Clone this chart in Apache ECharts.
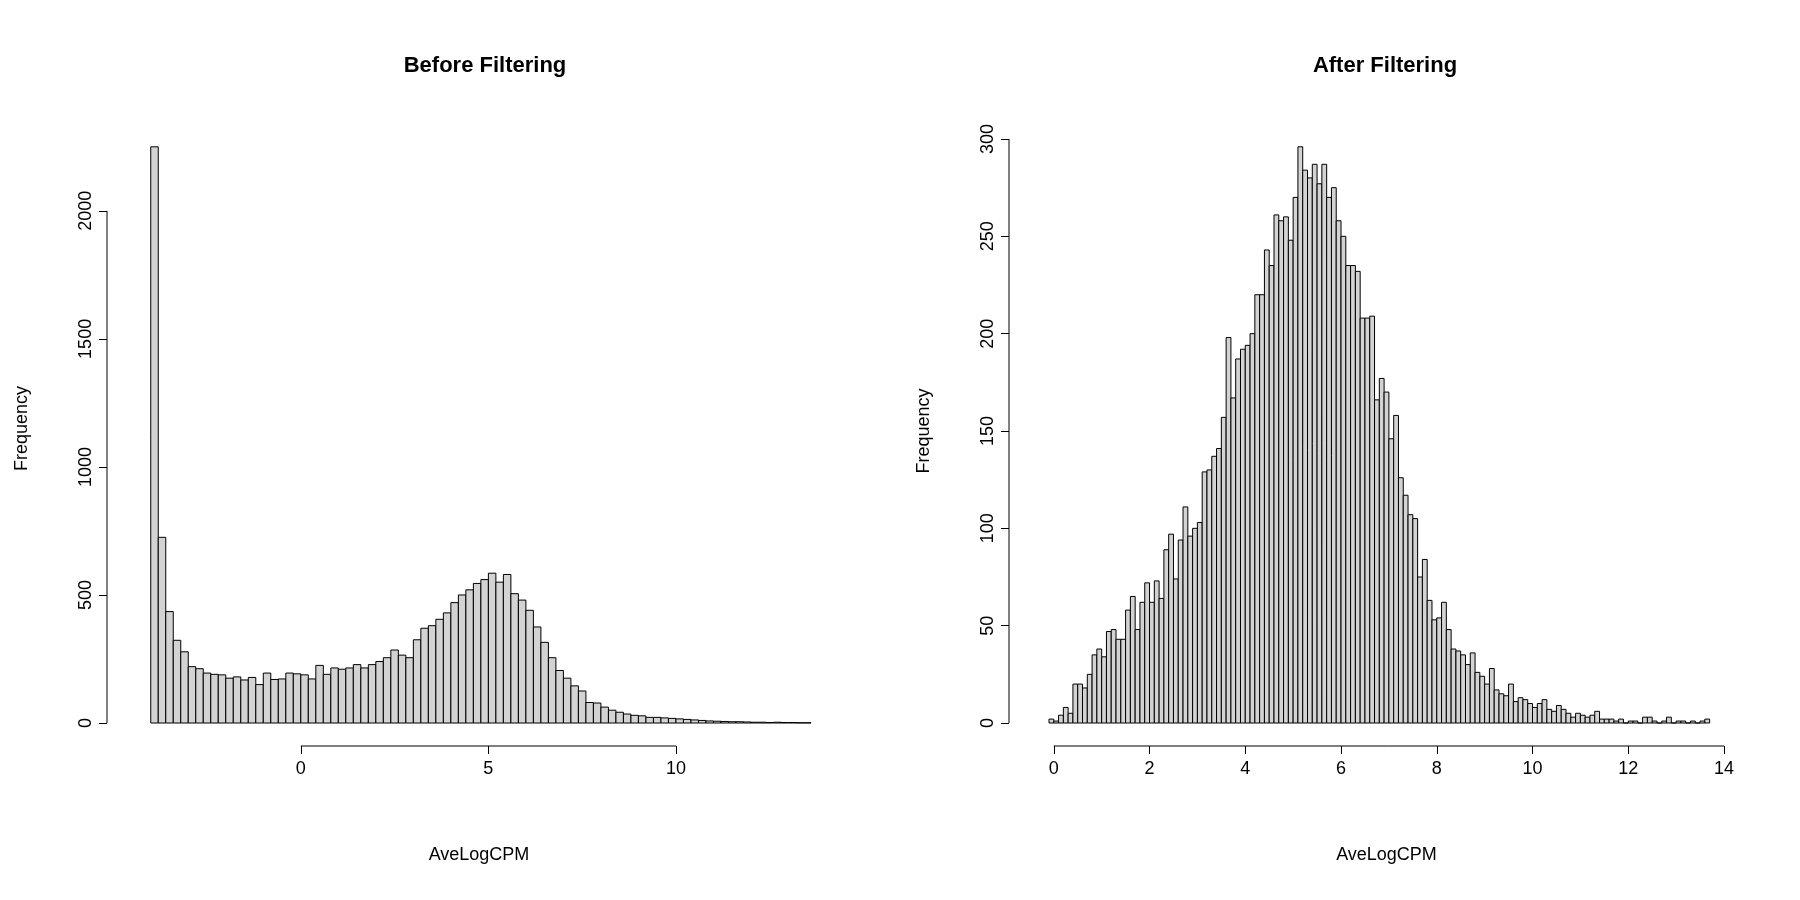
<!DOCTYPE html>
<html>
<head>
<meta charset="utf-8">
<script src="https://cdn.jsdelivr.net/npm/echarts@6/dist/echarts.min.js"></script>
<style>html,body{margin:0;background:#fff}#c{width:1800px;height:900px}</style>
</head>
<body>
<div id="c"></div>
<script>
// histogram bins: start, width, counts
var beforeStart = -4.0, beforeWidth = 0.2;
var beforeCounts = [2250,725,435,323,278, 220,212,195,190,188, 175,180,168,178,150,
  195,170,172,195,192, 188,172,225,190,215, 210,215,228,215,228, 240,255,285,265,255,
  325,370,380,405,430, 470,500,520,545,560, 585,550,580,505,480, 440,375,315,255,205,
  175,145,125,80,78, 62,50,42,35,30, 28,22,22,20,18, 16,14,12,10,8, 7,6,5,5,4, 3,3,2,3,2, 2,1,1];

var afterStart = -0.1, afterWidth = 0.1;
var afterCounts = [2,1,4,8,5,20,20,18,25,
  35,38,34,47,48,43,43,58,65,48,62,72,62,73,64,89,97,74,94,111,96,100,103,129,130,137,141,157,198,167,187,192,194,
  200,220,220,243,235,261,258,260,248,270,296,284,280,287,277,287,270,275,258,250,235,235,232,208,208,209,
  166,177,170,146,158,126,117,107,105,
  75,84,63,53,54,62,48,38,37,35,30,36,26,24,20,28,17,15,14,20,11,13,12,10,8,10,12,7,6,9,7,5,3,5,4,3,4,6,2,2,2,1,2,0,1,1,0,3,3,1,0,1,3,0,1,1,0,1,0,1,2];

var beforeXTicks = [0, 5, 10], beforeYTicks = [0, 500, 1000, 1500, 2000];
var afterXTicks = [0, 2, 4, 6, 8, 10, 12, 14], afterYTicks = [0, 50, 100, 150, 200, 250, 300];

function bins(start, w, counts) {
  return counts.map(function (c, i) { return [start + i * w, start + (i + 1) * w, c]; });
}
function renderBar(params, api) {
  var p0 = api.coord([api.value(0), api.value(2)]);
  var p1 = api.coord([api.value(1), 0]);
  return {type: 'rect', shape: {x: p0[0], y: p0[1], width: p1[0] - p0[0], height: p1[1] - p0[1]},
    style: {fill: '#d3d3d3', stroke: '#000', lineWidth: 1}};
}
var font = {fontFamily: 'Liberation Sans, Arial', fontSize: 18, color: '#000'};
function plain(v) { return String(v); }
function xAx(idx, min, max, ticks) {
  return {gridIndex: idx, type: 'value', min: min, max: max, offset: 23,
    name: 'AveLogCPM', nameLocation: 'middle', nameGap: 100, nameTextStyle: font,
    splitLine: {show: false}, axisLine: {show: false, onZero: false},
    axisTick: {show: true, customValues: ticks, length: 8, lineStyle: {color: '#000'}},
    axisLabel: Object.assign({customValues: ticks, margin: 14, formatter: plain}, font)};
}
function yAx(idx, max, ticks) {
  return {gridIndex: idx, type: 'value', min: 0, max: max, offset: 40,
    name: 'Frequency', nameLocation: 'middle', nameGap: 76, nameTextStyle: font,
    splitLine: {show: false}, axisLine: {show: false, onZero: false},
    axisTick: {show: true, customValues: ticks, length: 8, lineStyle: {color: '#000'}},
    axisLabel: Object.assign({customValues: ticks, rotate: 90, margin: 12, formatter: plain}, font)};
}
var titleStyle = {fontFamily: 'Liberation Sans, Arial', fontSize: 22, fontWeight: 'bold', color: '#000'};
var chart = echarts.init(document.getElementById('c'));
chart.setOption({
  animation: false,
  title: [
    {text: 'Before Filtering', left: 480, top: 50, textAlign: 'center', textStyle: titleStyle},
    {text: 'After Filtering', left: 1380, top: 50, textAlign: 'center', textStyle: titleStyle}
  ],
  grid: [
    {left: 147, right: 989, top: 134, bottom: 177},
    {left: 1049, right: 76, top: 139, bottom: 177}
  ],
  xAxis: [xAx(0, -4.1, 13.6, beforeXTicks), xAx(1, -0.1, 14, afterXTicks)],
  yAxis: [yAx(0, 2300, beforeYTicks), yAx(1, 300, afterYTicks)],
  series: [
    {type: 'custom', xAxisIndex: 0, yAxisIndex: 0, renderItem: renderBar, data: bins(beforeStart, beforeWidth, beforeCounts)},
    {type: 'custom', xAxisIndex: 1, yAxisIndex: 1, renderItem: renderBar, data: bins(afterStart, afterWidth, afterCounts)}
  ]
});
// R-style axis lines spanning only the tick range
function axisLines(idx, xt, yt) {
  var xa = chart.convertToPixel({xAxisIndex: idx}, xt[0]);
  var xb = chart.convertToPixel({xAxisIndex: idx}, xt[xt.length - 1]);
  var ya = chart.convertToPixel({yAxisIndex: idx}, yt[0]);
  var yb = chart.convertToPixel({yAxisIndex: idx}, yt[yt.length - 1]);
  var gx = chart.convertToPixel({xAxisIndex: idx}, idx ? -0.1 : -4.1);
  return [
    {type: 'line', shape: {x1: xa, y1: ya + 23, x2: xb, y2: ya + 23}, style: {stroke: '#000', lineWidth: 1}},
    {type: 'line', shape: {x1: gx - 40, y1: ya, x2: gx - 40, y2: yb}, style: {stroke: '#000', lineWidth: 1}}
  ];
}
chart.setOption({graphic: axisLines(0, beforeXTicks, beforeYTicks).concat(axisLines(1, afterXTicks, afterYTicks))});
</script>
</body>
</html>
